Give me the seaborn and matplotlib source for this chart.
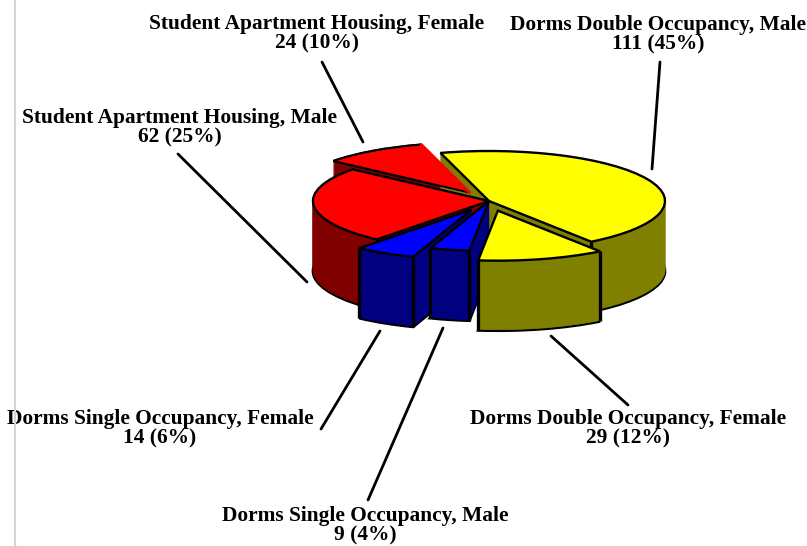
import numpy as np
import seaborn as sns
import matplotlib.pyplot as plt
from matplotlib.lines import Line2D

categories = ["Dorms Double Occupancy, Male", "Dorms Double Occupancy, Female",
              "Dorms Single Occupancy, Male", "Dorms Single Occupancy, Female",
              "Student Apartment Housing, Male", "Student Apartment Housing, Female"]
values = [111, 29, 9, 14, 62, 24]
explode = [0, 0.2, 0, 0.2, 0, 0.2]
top_colors = ["#FFFF00", "#FFFF00", "#0000FF", "#0000FF", "#FF0000", "#FF0000"]
side_colors = ["#808000", "#808000", "#000080", "#000080", "#800000", "#800000"]

# back to front
draw_order = [5, 0, 4, 3, 2, 1]

# label centres and leader lines, in image pixels
label_pos = [(658, 35), (628, 429), (365, 526), (160, 429), (180, 128), (317, 34)]
leaders = [((660, 62), (652, 169)), ((628, 405), (551, 336)), ((368, 500), (443, 328)),
           ((321, 429), (380, 331)), ((178, 154), (307, 282)), ((322, 62), (363, 142))]

W, H = 807, 546
CX, CY = 489, 201    # pie centre in pixels
RX, RY = 176, 50     # pixels per data unit
DEPTH = 70           # thickness in pixels

sns.set_theme(style="white")
plt.rcParams["font.family"] = ["Liberation Serif", "DejaVu Serif"]

fig = plt.figure(figsize=(W / 100, H / 100), dpi=100)
ax = fig.add_axes([0, 0, 1, 1])
palette_top = sns.color_palette(top_colors)
palette_side = sns.color_palette(side_colors)
z = 1


def to_data(px, py):
    return (px - CX) / RX, (CY - py) / RY


def one_slice(i, dz, color, edge, lw):
    # draw the whole pie so the library works out the angles, keep just slice i
    global z
    wedges, _ = ax.pie(values, explode=explode, startangle=106, counterclock=False,
                       center=(0, -dz / RY), colors=[color] * len(values),
                       wedgeprops={"edgecolor": edge, "linewidth": lw})
    for j, w in enumerate(wedges):
        if j != i:
            w.remove()
    z += 1
    wedges[i].set_zorder(z)
    return wedges[i]


fig.add_artist(Line2D([15 / W, 15 / W], [0, 1], color="#d4d4d4", lw=1.5))

for i in draw_order:
    one_slice(i, DEPTH, palette_side[i], "black", 2.0)
    for dz in range(DEPTH - 1, 0, -1):
        one_slice(i, dz, palette_side[i], palette_side[i], 0.5)
    top = one_slice(i, 0, palette_top[i], "black", 1.7)
    for th in (top.theta1, top.theta2):
        s = np.sin(np.radians(th))
        if s < 0:
            x = top.center[0] + np.cos(np.radians(th))
            y = top.center[1] + s
            z += 1
            ax.plot([x, x], [y, y - DEPTH / RY], color="black", lw=2.4,
                    solid_capstyle="butt", zorder=z)
    z += 1
    top.set_zorder(z)
    if i == 0:
        # back red slice sits over the olive face of the big yellow one
        back = one_slice(5, 0, palette_top[5], "black", 1.4)
        th = np.radians(back.theta1)
        z += 1
        ax.plot([back.center[0], back.center[0] + 0.99 * np.cos(th)],
                [back.center[1], back.center[1] + 0.99 * np.sin(th)],
                color=palette_top[5], lw=2.2, zorder=z)

for a, b in leaders:
    x0, y0 = to_data(*a)
    x1, y1 = to_data(*b)
    ax.plot([x0, x1], [y0, y1], color="black", lw=2.0, zorder=z + 1)

total = sum(values)
for cat, v, (px, py) in zip(categories, values, label_pos):
    x, y = to_data(px, py)
    ax.text(x, y, f"{cat}\n{v} ({v / total:.0%})", ha="center", va="center",
            fontsize=15.4, fontweight="bold", color="black", linespacing=0.98,
            zorder=z + 2)

ax.set_aspect("auto")
ax.set_xlim(-CX / RX, (W - CX) / RX)
ax.set_ylim((CY - H) / RY, CY / RY)
ax.axis("off")

fig.savefig("out.png", dpi=100)
